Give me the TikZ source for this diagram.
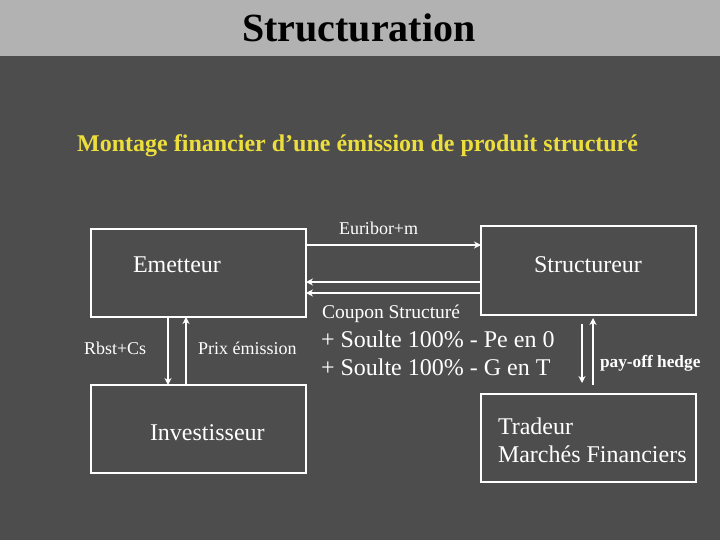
\documentclass[tikz,border=0pt]{standalone}
\usepackage{fontspec}
\setmainfont{Liberation Serif}
\usetikzlibrary{arrows.meta}
\definecolor{bgdark}{RGB}{77,77,77}
\definecolor{bargray}{RGB}{178,178,178}
\definecolor{subyellow}{RGB}{236,222,60}
\tikzset{
  box/.style={draw=white, line width=2pt, minimum width=215pt, minimum height=88pt, inner sep=0pt, outer sep=0pt},
  lbl/.style={text=white, anchor=base west, inner sep=0pt, outer sep=0pt},
  arr/.style={draw=white, line width=2pt, -{Stealth[length=7pt,width=7pt]}},
  big/.style={font=\fontsize{24}{28}\selectfont},
  small/.style={font=\fontsize{18}{21}\selectfont}
}
\begin{document}
\begin{tikzpicture}[x=1pt,y=-1pt]
\fill[bgdark] (0,0) rectangle (720,540);
\fill[bargray] (0,0) rectangle (720,56);
\useasboundingbox (0,0) rectangle (720,540);
\node[anchor=base, inner sep=0pt, font=\fontsize{40}{46}\selectfont\bfseries, text=black] (title) at (359,42) {Structuration};
\node[anchor=base west, inner sep=0pt, font=\fontsize{24}{28}\selectfont\bfseries, text=subyellow] (sub) at (77,152) {Montage financier d’une émission de produit structuré};
% boxes
\node[box] (em) at (198.5,273) {};
\node[box, minimum height=89pt] (st) at (588.5,270.5) {};
\node[box] (inv) at (198.5,429) {};
\node[box] (tr) at (588.5,438) {};
% box labels
\node[lbl, big] (emt) at (133,272) {Emetteur};
\node[lbl, big] (stt) at (534,272) {Structureur};
\node[lbl, big] (invt) at (150,440) {Investisseur};
\node[lbl, big] (trt1) at (498,434) {Tradeur};
\node[lbl, big] (trt2) at (498,462) {Marchés Financiers};
% arrows top
\draw[arr] ([yshift=28pt]em.east) -- ([yshift=25.5pt]st.west);
\draw[arr] ([yshift=-11.5pt]st.west) -- ([yshift=-9pt]em.east);
\draw[arr] ([yshift=-22.5pt]st.west) -- ([yshift=-20pt]em.east);
\node[lbl, small] (eur) at (339,235) {Euribor+m};
\node[lbl, font=\fontsize{19.5}{22}\selectfont] (coup) at (322,318) {Coupon Structuré};
% arrows left
\draw[arr] ([xshift=-30.5pt]em.south) -- ([xshift=-30.5pt]inv.north);
\draw[arr] ([xshift=-12.5pt]inv.north) -- ([xshift=-12.5pt]em.south);
\node[lbl, small] (rb) at (84,354) {Rbst+Cs};
\node[lbl, small] (px) at (198,354) {Prix émission};
% middle text
\node[lbl, big] (s1) at (321,347) {+ Soulte 100\% - Pe en 0};
\node[lbl, big] (s2) at (321,375) {+ Soulte 100\% - G en T};
% arrows right
\draw[arr] ([xshift=-6.5pt,yshift=-9pt]st.south) -- ([xshift=-6.5pt,yshift=11pt]tr.north);
\draw[arr] ([xshift=4.5pt,yshift=9pt]tr.north) -- ([xshift=4.5pt,yshift=-3pt]st.south);
\node[lbl, font=\fontsize{17.3}{20}\selectfont\bfseries] (po) at (600,367) {pay-off hedge};
\end{tikzpicture}
\end{document}
